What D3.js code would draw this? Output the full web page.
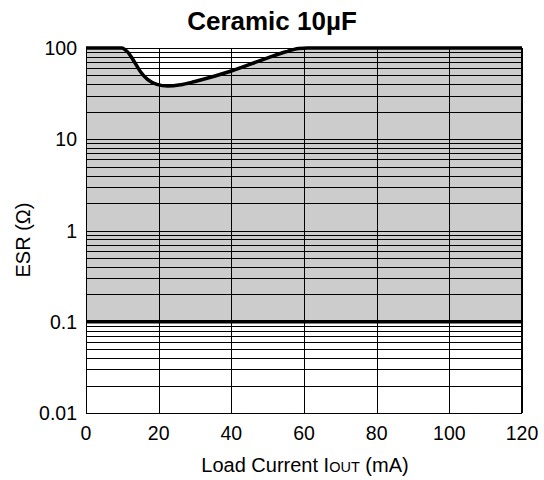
<!DOCTYPE html>
<html><head><meta charset="utf-8">
<script src="https://cdn.jsdelivr.net/npm/d3@7"></script>
<style>body{margin:0;background:#fff;font-family:"Liberation Sans",Arial,sans-serif}</style>
</head><body><svg id="c" width="544" height="480"></svg>
<script>
const curveX = [0, 9.8, 11.5, 13, 15, 17, 19.5, 22.5, 26, 30, 40, 50, 55, 58.5, 61, 120];
const curveESR = [100, 100, 90, 74, 55, 45, 40, 38.3, 39.5, 43, 56, 78, 91, 98.5, 100, 100];
const lowerESR = 0.1;
const xTicks = [0, 20, 40, 60, 80, 100, 120];
const yTicks = [0.01, 0.1, 1, 10, 100];
const yTickLabels = ["0.01", "0.1", "1", "10", "100"];

const svg = d3.select("#c");
const L = 86, R = 522, T = 48, B = 413;
const x = d3.scaleLinear().domain([0, 120]).range([L, R]);
const y = d3.scaleLog().domain([0.01, 100]).range([B, T]);

// shaded region
const area = d3.area().x((d, i) => x(curveX[i])).y0(y(lowerESR)).y1((d) => y(d)).curve(d3.curveMonotoneX);
svg.append("path").datum(curveESR).attr("d", area).attr("fill", "#cccccc");

// horizontal grid
const hl = [];
for (let e = -2; e < 2; e++) for (let m = 1; m <= 9; m++) hl.push(m * Math.pow(10, e));
hl.push(100);
svg.append("g").selectAll("line").data(hl).join("line")
  .attr("x1", L).attr("x2", R).attr("y1", d => Math.round(y(d)) + 0.5).attr("y2", d => Math.round(y(d)) + 0.5)
  .attr("stroke", "#000").attr("stroke-width", 1);
svg.append("g").selectAll("line").data(xTicks).join("line")
  .attr("x1", d => Math.round(x(d)) + 0.5).attr("x2", d => Math.round(x(d)) + 0.5).attr("y1", T).attr("y2", B)
  .attr("stroke", "#000").attr("stroke-width", 1);
svg.append("rect").attr("x", L + 0.5).attr("y", T + 0.5).attr("width", R - L - 1).attr("height", B - T).attr("fill", "none").attr("stroke", "#000");

// thick lines
svg.append("line").attr("x1", L).attr("x2", R).attr("y1", y(lowerESR)).attr("y2", y(lowerESR)).attr("stroke", "#000").attr("stroke-width", 3.5);
const line = d3.line().x((d, i) => x(curveX[i])).y(d => y(d)).curve(d3.curveMonotoneX);
svg.append("path").datum(curveESR).attr("d", line).attr("fill", "none").attr("stroke", "#000").attr("stroke-width", 3.5);

// tick labels
svg.append("g").selectAll("text").data(xTicks).join("text")
  .attr("x", d => x(d)).attr("y", 440).attr("text-anchor", "middle").attr("font-size", 19.5).text(d => d);
svg.append("g").selectAll("text").data(yTicks).join("text")
  .attr("x", 77).attr("y", d => y(d) + 7).attr("text-anchor", "end").attr("font-size", 19.5).text((d, i) => yTickLabels[i]);

// titles
svg.append("text").attr("x", 272).attr("y", 30).attr("text-anchor", "middle").attr("font-size", 26).attr("font-weight", "bold").text("Ceramic 10µF");
const xl = svg.append("text").attr("x", 305).attr("y", 472).attr("text-anchor", "middle").attr("font-size", 20);
xl.append("tspan").text("Load Current I");
xl.append("tspan").attr("font-size", 14.5).text("OUT");
xl.append("tspan").text(" (mA)");
svg.append("text").attr("transform", "translate(30,240) rotate(-90)").attr("text-anchor", "middle").attr("font-size", 20).text("ESR (Ω)");
</script></body></html>
